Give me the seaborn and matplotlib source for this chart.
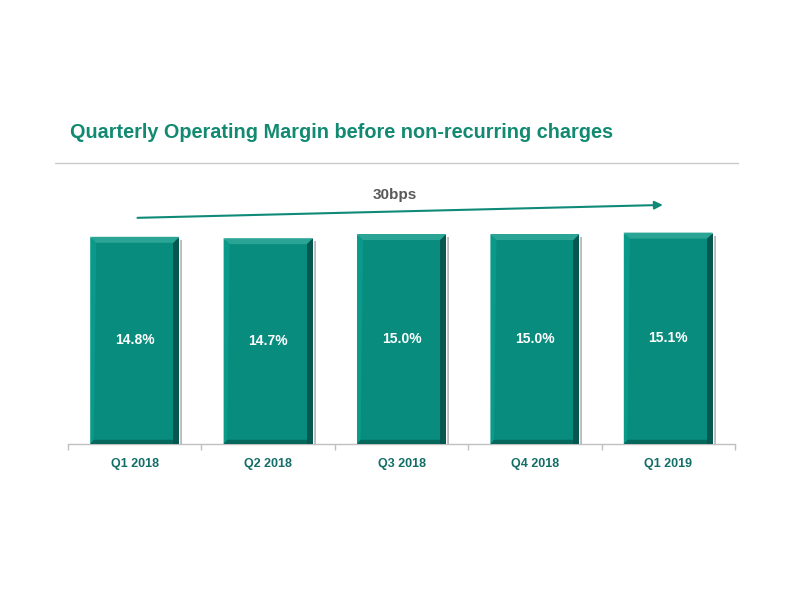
import matplotlib
matplotlib.use("Agg")
import matplotlib.pyplot as plt
import seaborn as sns
import pandas as pd
from matplotlib.patches import Polygon, FancyArrowPatch
from matplotlib.lines import Line2D

quarters = ["Q1 2018", "Q2 2018", "Q3 2018", "Q4 2018", "Q1 2019"]
margins = [14.8, 14.7, 15.0, 15.0, 15.1]
labels = ["14.8%", "14.7%", "15.0%", "15.0%", "15.1%"]
title = "Quarterly Operating Margin before non-recurring charges"
change_label = "30bps"

sns.set_theme(style="white")
plt.rcParams['font.family'] = ['Liberation Sans', 'DejaVu Sans']

df = pd.DataFrame({"quarter": quarters, "margin": margins})

fig = plt.figure(figsize=(7.92, 6.12), dpi=100)
ax = fig.add_axes([68/792, 1-444/612, (735-68)/792, (444-164)/612])

main = "#078c7e"
sns.barplot(data=df, x="quarter", y="margin", color=main, width=0.667,
            saturation=1, ax=ax, zorder=3)
ax.set_ylim(0, 20)
ax.set_xlim(-0.5, len(quarters) - 0.5)

# bevel decoration derived from bar geometry
upx = 1 / ((735-68)/len(quarters))
upy = 20 / (444-164)
bx = 6 * upx
by = 6 * upy
for p, lab in zip(ax.patches, labels):
    x0 = p.get_x(); w = p.get_width(); h = p.get_height()
    x1 = x0 + w
    sh = Polygon([(x1, 0), (x1 + 3*upx, 0), (x1 + 3*upx, h - 3*upy), (x1, h - 3*upy)],
                 closed=True, facecolor="#b8b8b8", edgecolor="none", zorder=2)
    ax.add_patch(sh)
    top = Polygon([(x0, h), (x1, h), (x1 - bx, h - by), (x0 + bx, h - by)],
                  closed=True, facecolor="#2aa595", edgecolor="none", zorder=4)
    right = Polygon([(x1, h), (x1, 0), (x1 - bx, 0), (x1 - bx, h - by)],
                    closed=True, facecolor="#05574f", edgecolor="none", zorder=4)
    left = Polygon([(x0, h), (x0, 0), (x0 + bx*0.6, 0), (x0 + bx, h - by)],
                   closed=True, facecolor="#0a9a8a", edgecolor="none", zorder=4)
    bottom = Polygon([(x0, 0), (x1, 0), (x1 - bx, by*0.7), (x0 + bx*0.6, by*0.7)],
                     closed=True, facecolor="#06675d", edgecolor="none", zorder=4)
    for poly in (left, bottom, right, top):
        ax.add_patch(poly)
    ax.text(x0 + w/2, h/2, lab, ha="center", va="center", color="white",
            fontsize=10, fontweight="bold", zorder=5)

for s in ["top", "right", "left"]:
    ax.spines[s].set_visible(False)
ax.spines["bottom"].set_color("#c0c0c0")
ax.spines["bottom"].set_linewidth(1)
ax.set_yticks([])
ax.set_xlabel("")
ax.set_ylabel("")
ax.set_xticks(range(len(quarters)))
ax.set_xticklabels(quarters, fontsize=9, fontweight="bold", color="#136e68")
ax.tick_params(axis="x", which="major", bottom=False, length=0, pad=10)
ax.set_xticks([i - 0.5 for i in range(len(quarters) + 1)], minor=True)
ax.tick_params(axis="x", which="minor", bottom=True, length=4, color="#c0c0c0",
               width=1, direction="out")

# trend arrow
arr = FancyArrowPatch((0.0, 16.15), (3.98, 17.08), arrowstyle="-|>", mutation_scale=12,
                      color="#0f8a78", linewidth=1.5, zorder=6, clip_on=False)
ax.add_patch(arr)
ax.text(1.95, 17.75, change_label, ha="center", va="center", fontsize=11,
        fontweight="bold", color="#595959")

fig.text(70/792, 1-133/612, title, ha="left", va="center", fontsize=14.3,
         fontweight="bold", color="#128a72")
fig.add_artist(Line2D([55/792, 738/792], [1-163/612, 1-163/612], color="#c8c8c8",
                      linewidth=1, transform=fig.transFigure))

fig.savefig("out.png", dpi=100)
